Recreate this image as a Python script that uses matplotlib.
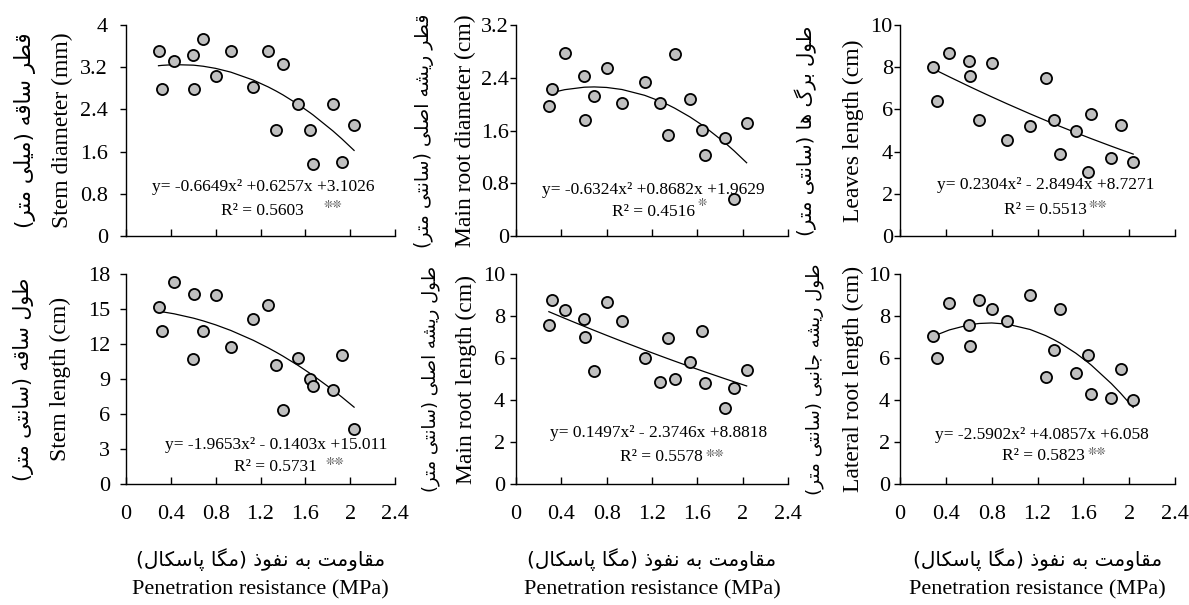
import numpy as np
import matplotlib
matplotlib.use("Agg")
import matplotlib.pyplot as plt
from matplotlib.transforms import blended_transform_factory

# ---------------- data ----------------
x_mpa = [0.29, 0.32, 0.43, 0.60, 0.61, 0.69, 0.80, 0.935, 1.135, 1.27,
         1.34, 1.40, 1.535, 1.645, 1.67, 1.845, 1.925, 2.035]

stem_diameter = [3.51, 2.78, 3.32, 3.44, 2.78, 3.73, 3.03, 3.51, 2.82, 3.51,
                 2.01, 3.26, 2.51, 2.01, 1.37, 2.51, 1.41, 2.11]
main_root_diameter = [1.97, 2.23, 2.78, 2.42, 1.76, 2.13, 2.545, 2.02, 2.34, 2.02,
                      1.53, 2.76, 2.08, 1.61, 1.235, 1.49, 0.555, 1.72]
leaves_length = [8.02, 6.38, 8.68, 8.30, 7.56, 5.48, 8.22, 4.56, 5.19, 7.49,
                 5.52, 3.89, 5.00, 3.05, 5.79, 3.68, 5.27, 3.51]
stem_length = [15.15, 13.15, 17.31, 10.70, 16.31, 13.15, 16.17, 11.72, 14.18, 15.35,
               10.21, 6.36, 10.84, 9.04, 8.36, 8.04, 11.04, 4.73]
main_root_length = [7.56, 8.76, 8.29, 7.84, 7.00, 5.37, 8.65, 7.75, 5.99, 4.88,
                    6.94, 4.99, 5.83, 7.29, 4.80, 3.61, 4.55, 5.44]
lateral_root_length = [7.04, 6.02, 8.61, 7.59, 6.58, 8.78, 8.32, 7.77, 8.99, 5.09,
                       6.39, 8.34, 5.28, 6.12, 4.29, 4.10, 5.48, 3.99]

# quadratic trend coefficients (a, b, c) from the equations on the chart
coef_stem_diameter = [-0.6649, 0.6257, 3.1026]
coef_main_root_diameter = [-0.6324, 0.8682, 1.9629]
coef_leaves_length = [0.2304, -2.8494, 8.7271]
coef_stem_length = [-1.9653, -0.1403, 15.011]
coef_main_root_length = [0.1497, -2.3746, 8.8818]
coef_lateral_root_length = [-2.5902, 4.0857, 6.058]

eq_texts = ["y= -0.6649x² +0.6257x +3.1026", "y= -0.6324x² +0.8682x +1.9629",
            "y= 0.2304x² - 2.8494x +8.7271", "y= -1.9653x² - 0.1403x +15.011",
            "y= 0.1497x² - 2.3746x +8.8818", "y= -2.5902x² +4.0857x +6.058"]
r2_texts = ["R² = 0.5603", "R² = 0.4516", "R² = 0.5513",
            "R² = 0.5731", "R² = 0.5578", "R² = 0.5823"]
sig_texts = ["❊❊", "❊", "❊❊", "❊❊", "❊❊", "❊❊"]

ylabels_en = ["Stem diameter (mm)", "Main root diameter (cm)", "Leaves length (cm)",
              "Stem length (cm)", "Main root length (cm)", "Lateral root length (cm)"]
ylabels_fa = ["قطر ساقه (میلی متر)", "قطر ریشه اصلی (سانتی متر)", "طول برگ ها (سانتی متر)",
              "طول ساقه (سانتی متر)", "طول ریشه اصلی (سانتی متر)", "طول ریشه جانبی (سانتی متر)"]
xlabel_en = "Penetration resistance (MPa)"
xlabel_fa = "مقاومت به نفوذ (مگا پاسکال)"

yticks_list = [[0, 0.8, 1.6, 2.4, 3.2, 4], [0, 0.8, 1.6, 2.4, 3.2], [0, 2, 4, 6, 8, 10],
               [0, 3, 6, 9, 12, 15, 18], [0, 2, 4, 6, 8, 10], [0, 2, 4, 6, 8, 10]]
xticks = [0, 0.4, 0.8, 1.2, 1.6, 2.0, 2.4]
xtick_labels = ["0", "0.4", "0.8", "1.2", "1.6", "2", "2.4"]

# ---------------- simple Persian shaping (presentation forms + RTL) ----------------
FORMS = {
    'ا': ('\uFE8D', '\uFE8E', None, None),
    'ب': ('\uFE8F', '\uFE90', '\uFE91', '\uFE92'),
    'پ': ('\uFB56', '\uFB57', '\uFB58', '\uFB59'),
    'ت': ('\uFE95', '\uFE96', '\uFE97', '\uFE98'),
    'ج': ('\uFE9D', '\uFE9E', '\uFE9F', '\uFEA0'),
    'ذ': ('\uFEAB', '\uFEAC', None, None),
    'ر': ('\uFEAD', '\uFEAE', None, None),
    'ز': ('\uFEAF', '\uFEB0', None, None),
    'س': ('\uFEB1', '\uFEB2', '\uFEB3', '\uFEB4'),
    'ش': ('\uFEB5', '\uFEB6', '\uFEB7', '\uFEB8'),
    'ص': ('\uFEB9', '\uFEBA', '\uFEBB', '\uFEBC'),
    'ط': ('\uFEC1', '\uFEC2', '\uFEC3', '\uFEC4'),
    'ف': ('\uFED1', '\uFED2', '\uFED3', '\uFED4'),
    'ق': ('\uFED5', '\uFED6', '\uFED7', '\uFED8'),
    'ک': ('\uFB8E', '\uFB8F', '\uFB90', '\uFB91'),
    'گ': ('\uFB92', '\uFB93', '\uFB94', '\uFB95'),
    'ل': ('\uFEDD', '\uFEDE', '\uFEDF', '\uFEE0'),
    'م': ('\uFEE1', '\uFEE2', '\uFEE3', '\uFEE4'),
    'ن': ('\uFEE5', '\uFEE6', '\uFEE7', '\uFEE8'),
    'ه': ('\uFEE9', '\uFEEA', '\uFEEB', '\uFEEC'),
    'و': ('\uFEED', '\uFEEE', None, None),
    'ی': ('\uFBFC', '\uFBFD', '\uFBFE', '\uFBFF'),
}


def shape_fa(text):
    out = []
    n = len(text)
    for i, ch in enumerate(text):
        if ch not in FORMS:
            out.append(ch)
            continue
        prev = text[i - 1] if i > 0 else None
        nxt = text[i + 1] if i < n - 1 else None
        join_prev = prev in FORMS and FORMS[prev][2] is not None
        join_next = nxt in FORMS and FORMS[ch][2] is not None
        iso, fin, ini, med = FORMS[ch]
        if join_prev and join_next:
            out.append(med)
        elif join_prev:
            out.append(fin)
        elif join_next:
            out.append(ini)
        else:
            out.append(iso)
    vis = ''.join(reversed(out))
    vis = vis.translate(str.maketrans({'(': ')', ')': '('}))
    return vis


# ---------------- figure ----------------
W, H = 1189, 605
fig = plt.figure(figsize=(W / 100, H / 100), dpi=100)
SERIF = ['Liberation Serif', 'DejaVu Serif']
FA = ['DejaVu Sans']

col_px = [(126, 395), (516, 788), (900, 1175)]
row_px = [(25, 236), (274, 484)]

ys = [stem_diameter, main_root_diameter, leaves_length,
      stem_length, main_root_length, lateral_root_length]
coefs = [coef_stem_diameter, coef_main_root_diameter, coef_leaves_length,
         coef_stem_length, coef_main_root_length, coef_lateral_root_length]

# layout (pixels / points)
fa_x = [25, 424, 806, 23, 431, 815]
fa_size = [15.5, 13.6, 14.2, 14.8, 13.0, 13.2]
en_x = [62, 465, 853, 60, 466, 853]
ytick_pad = [9.0, 1.2, 1.2, 7.5, 3.8, 3.2]
eq_pos = [(263, 187), (653, 190), (1046, 185), (276, 445), (659, 433), (1042, 435)]
r2_pos = [(262, 211), (653, 212), (1045, 210), (275, 467), (661, 457), (1043, 456)]
sig_pos = [(333, 205), (702, 203), (1098, 205), (335, 462), (715, 454), (1097, 452)]

for k in range(6):
    r, c = divmod(k, 3)
    x0, x1 = col_px[c]
    y0, y1 = row_px[r]
    ax = fig.add_axes([x0 / W, 1 - y1 / H, (x1 - x0) / W, (y1 - y0) / H])
    xs = np.array(x_mpa)
    yv = np.array(ys[k])
    xx = np.sort(xs)
    ax.plot(xx, np.polyval(coefs[k], xx), color='black', lw=0.9, zorder=2)
    ax.plot(xs, yv, 'o', ms=8, mfc='#c0c0c0', mec='black', mew=1.3, zorder=3,
            clip_on=False)
    yt = yticks_list[k]
    ax.set_xlim(0, 2.4)
    ax.set_ylim(0, yt[-1])
    ax.set_xticks(xticks)
    ax.set_yticks(yt)
    ax.set_yticklabels([f"{v:g}" for v in yt], fontfamily=SERIF, fontsize=16)
    if r == 1:
        ax.set_xticklabels(xtick_labels, fontfamily=SERIF, fontsize=16)
    else:
        ax.set_xticklabels([])
    ax.tick_params(axis='x', direction='in', length=5, width=1, pad=15)
    ax.tick_params(axis='y', direction='out', length=4, width=1, pad=ytick_pad[k])
    for s in ['top', 'right']:
        ax.spines[s].set_visible(False)
    for s in ['left', 'bottom']:
        ax.spines[s].set_linewidth(1)

    tr = blended_transform_factory(fig.transFigure, ax.transAxes)
    ax.text(en_x[k] / W, 0.5, ylabels_en[k], transform=tr, rotation=90,
            ha='center', va='center', fontfamily=SERIF, fontsize=17)
    ax.text(fa_x[k] / W, 0.5, shape_fa(ylabels_fa[k]), transform=tr, rotation=90,
            ha='center', va='center', fontfamily=FA, fontsize=fa_size[k])

    ex, ey = eq_pos[k]
    fig.text(ex / W, 1 - ey / H, eq_texts[k], ha='center', va='center',
             fontfamily=SERIF, fontsize=12.5)
    rx, ry = r2_pos[k]
    fig.text(rx / W, 1 - ry / H, r2_texts[k], ha='center', va='center',
             fontfamily=SERIF, fontsize=12.5)
    sx, sy = sig_pos[k]
    fig.text(sx / W, 1 - sy / H, sig_texts[k], ha='center', va='center',
             fontfamily=['DejaVu Sans'], fontsize=8, color='#444444')

    if r == 1:
        trx = blended_transform_factory(ax.transAxes, fig.transFigure)
        ax.text(0.5, 1 - 560 / H, shape_fa(xlabel_fa), transform=trx,
                ha='center', va='center', fontfamily=FA, fontsize=14.5)
        ax.text(0.5, 1 - 590 / H, xlabel_en, transform=trx,
                ha='center', va='center', fontfamily=SERIF, fontsize=16)

fig.savefig('out.png', dpi=100)
